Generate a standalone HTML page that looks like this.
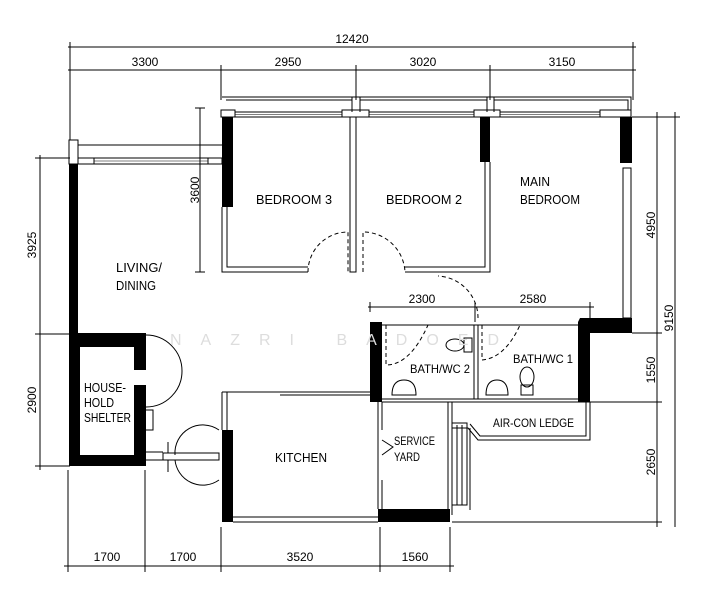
<!DOCTYPE html>
<html><head><meta charset="utf-8"><style>html,body{margin:0;padding:0;background:#fff}svg{display:block}</style></head><body>
<svg width="725" height="600" viewBox="0 0 725 600" xmlns="http://www.w3.org/2000/svg" font-family="Liberation Sans, sans-serif" fill="none" stroke="#000" stroke-width="1">
<!-- dimension lines top -->
<line x1="68" y1="47" x2="636" y2="47"/>
<line x1="68" y1="70" x2="636" y2="70"/>
<g stroke-width="1">
<line x1="70" y1="42" x2="70" y2="150"/><line x1="633" y1="42" x2="633" y2="100"/>
<line x1="221" y1="65" x2="221" y2="100"/><line x1="356" y1="65" x2="356" y2="100"/><line x1="490" y1="65" x2="490" y2="100"/>
</g>
<g fill="#000" stroke="none" font-size="12" text-anchor="middle">
<text x="352" y="43">12420</text>
<text x="145" y="66">3300</text><text x="288" y="66">2950</text><text x="423" y="66">3020</text><text x="562" y="66">3150</text>
</g>
<!-- top facade bedrooms -->
<path d="M222 97 H631 V112"/>
<path d="M226 100 H352 M360 100 H487 M494 100 H628 V110"/>
<rect x="222" y="112" width="409" height="5"/>
<line x1="230" y1="114.5" x2="628" y2="114.5" stroke-width="0.6"/>
<rect x="221" y="110" width="14" height="7" fill="#fff"/>
<rect x="342" y="110" width="27" height="7" fill="#fff"/>
<rect x="474" y="110" width="26" height="7" fill="#fff"/>
<rect x="600" y="110" width="31" height="7" fill="#fff"/>
<line x1="352" y1="97" x2="352" y2="112"/><line x1="360" y1="97" x2="360" y2="112"/><line x1="487" y1="97" x2="487" y2="112"/><line x1="494" y1="97" x2="494" y2="112"/>
<!-- living top -->
<path d="M69 140 H78 V145 H222"/>
<rect x="78" y="158" width="144" height="6"/>
<line x1="80" y1="161" x2="220" y2="161" stroke-width="0.6"/>
<rect x="69" y="140" width="9" height="24" fill="#fff"/>
<rect x="78" y="158" width="16" height="6" fill="#fff"/><rect x="208" y="158" width="14" height="6" fill="#fff"/>
<!-- black walls -->
<g fill="#000" stroke="none">
<rect x="69" y="164" width="9" height="170"/>
<rect x="222" y="117" width="11" height="90"/>
<rect x="480" y="117" width="10" height="45"/>
<rect x="620" y="117" width="12" height="46"/>
<path d="M580 318 H632 V333 H590 V402 H578 V322 Z"/>
<rect x="370" y="322" width="12" height="80"/>
<path d="M69 333 H146 V466 H69 Z M80 347 V455 H134 V347 Z" fill-rule="evenodd"/>
<rect x="134" y="370" width="12" height="15" fill="#fff"/>
<rect x="222" y="430" width="11" height="92"/>
<rect x="378" y="509" width="72" height="13"/>
<rect x="310" y="393" width="12" height="0"/>
</g>
<!-- bedroom walls -->
<path d="M222 207 V272 H308 M227 207 V267 H308"/>
<path d="M350 117 V272 H356 V117"/>
<path d="M363 272 V232 A42 42 0 0 1 405 272" stroke-dasharray="4 3"/>
<path d="M308 272 A40 40 0 0 1 348 232 V272" stroke-dasharray="4 3"/>
<path d="M405 272 H490 V162 M405 267 H485 V162"/>
<!-- main bedroom -->
<rect x="623" y="168" width="8" height="150"/>
<path d="M478 318 A42 42 0 0 0 438 276" stroke-dasharray="4 3"/>
<!-- dims inner -->
<line x1="200" y1="108" x2="200" y2="272"/><line x1="195" y1="108" x2="205" y2="108"/><line x1="195" y1="272" x2="205" y2="272"/>
<line x1="368" y1="307" x2="594" y2="307"/><line x1="370" y1="302" x2="370" y2="312"/><line x1="475" y1="302" x2="475" y2="322"/><line x1="590" y1="302" x2="590" y2="318"/>
<g fill="#000" stroke="none" font-size="12" text-anchor="middle">
<text x="422" y="303">2300</text><text x="533" y="303">2580</text>
<text transform="translate(199,190) rotate(-90)">3600</text>
</g>
<!-- baths -->
<path d="M382 325 H578 M382 399 H578 M382 402 H578"/>
<line x1="474" y1="325" x2="474" y2="399"/><line x1="478" y1="325" x2="478" y2="399"/>
<path d="M386 325 V365 Q410 365 428 325" stroke-dasharray="4 3"/>
<path d="M482 325 V360 Q505 358 520 325" stroke-dasharray="4 3"/>
<ellipse cx="455" cy="345" rx="9" ry="6"/><rect x="464" y="338" width="8" height="14"/>
<ellipse cx="527" cy="377" rx="7" ry="10"/><rect x="521" y="385" width="12" height="10"/>
<path d="M392 395 Q392 380 404 380 Q416 380 416 395 Z"/>
<path d="M486 395 Q486 380 497 380 Q508 380 508 395 Z"/>
<!-- shelter door -->
<path d="M146 335 A36 36 0 0 1 146 407"/>
<path d="M146 410 H153 V430 H146"/>
<!-- main entrance -->
<rect x="163" y="453" width="56" height="7"/>
<path d="M219 430 A28 28 0 0 0 175 455 M219 480 A28 28 0 0 1 175 460"/>
<path d="M168 442 V453 M168 460 V472"/>
<path d="M146 460 H163 M146 452 H163"/>
<!-- kitchen -->
<path d="M222 392 H378 M222 392 V430 M227 392 V430 M280 395 H378"/>
<path d="M233 517 H378 M233 522 H378"/>
<path d="M378 402 V509 M382 402 V430 M382 480 V509"/>
<path d="M382 440 L393 447 L382 455"/>
<path d="M448 402 V515 M452 402 V515"/>
<!-- air con -->
<path d="M452 402 H590 V440 H478 L468 428 H452"/>
<path d="M456 402 H586 V436 H480 L470 424"/>
<rect x="452" y="423" width="15" height="82"/>
<line x1="457" y1="425" x2="457" y2="505"/><line x1="462" y1="425" x2="462" y2="505"/>
<path d="M470 428 V510"/>
<line x1="452" y1="522" x2="662" y2="522"/>
<line x1="590" y1="402" x2="662" y2="402"/>
<line x1="632" y1="333" x2="662" y2="333"/>
<line x1="632" y1="117" x2="680" y2="117"/>
<!-- right dims -->
<line x1="657" y1="112" x2="657" y2="527"/><line x1="675" y1="112" x2="675" y2="527"/>
<g fill="#000" stroke="none" font-size="12" text-anchor="middle">
<text transform="translate(655,225) rotate(-90)">4950</text>
<text transform="translate(655,370) rotate(-90)">1550</text>
<text transform="translate(655,462) rotate(-90)">2650</text>
<text transform="translate(673,318) rotate(-90)">9150</text>
<text transform="translate(36,245) rotate(-90)">3925</text>
<text transform="translate(36,400) rotate(-90)">2900</text>
</g>
<!-- left dims -->
<line x1="40" y1="155" x2="40" y2="470"/>
<line x1="35" y1="158" x2="70" y2="158"/><line x1="35" y1="334" x2="70" y2="334"/><line x1="35" y1="466" x2="70" y2="466"/>
<!-- bottom dims -->
<line x1="64" y1="566" x2="454" y2="566"/>
<line x1="68" y1="470" x2="68" y2="572"/><line x1="145" y1="470" x2="145" y2="572"/><line x1="221" y1="527" x2="221" y2="572"/><line x1="380" y1="527" x2="380" y2="572"/><line x1="450" y1="527" x2="450" y2="572"/>
<g fill="#000" stroke="none" font-size="12" text-anchor="middle">
<text x="107" y="561">1700</text><text x="183" y="561">1700</text><text x="300" y="561">3520</text><text x="415" y="561">1560</text>
</g>
<!-- watermark -->
<text x="170" y="345" fill="#ddd" stroke="none" font-size="16" letter-spacing="19">NAZRI BADOED</text>
<!-- room labels -->
<g fill="#000" stroke="none" font-size="13">
<text x="256" y="204" textLength="76" lengthAdjust="spacingAndGlyphs">BEDROOM 3</text>
<text x="386" y="204" textLength="76" lengthAdjust="spacingAndGlyphs">BEDROOM 2</text>
<text x="520" y="186" textLength="30" lengthAdjust="spacingAndGlyphs">MAIN</text>
<text x="520" y="204" textLength="60" lengthAdjust="spacingAndGlyphs">BEDROOM</text>
<text x="116" y="272" textLength="46" lengthAdjust="spacingAndGlyphs">LIVING/</text>
<text x="116" y="290" textLength="40" lengthAdjust="spacingAndGlyphs">DINING</text>
<text x="84" y="392" textLength="42" lengthAdjust="spacingAndGlyphs">HOUSE-</text>
<text x="84" y="407" textLength="30" lengthAdjust="spacingAndGlyphs">HOLD</text>
<text x="84" y="422" textLength="47" lengthAdjust="spacingAndGlyphs">SHELTER</text>
<text x="275" y="462" textLength="52" lengthAdjust="spacingAndGlyphs">KITCHEN</text>
<text x="394" y="445" font-size="12" textLength="41" lengthAdjust="spacingAndGlyphs">SERVICE</text>
<text x="394" y="461" font-size="12" textLength="26" lengthAdjust="spacingAndGlyphs">YARD</text>
<text x="493" y="427" font-size="12" textLength="81" lengthAdjust="spacingAndGlyphs">AIR-CON LEDGE</text>
<text x="410" y="373" font-size="12" textLength="60" lengthAdjust="spacingAndGlyphs">BATH/WC 2</text>
<text x="513" y="363" font-size="12" textLength="60" lengthAdjust="spacingAndGlyphs">BATH/WC 1</text>
</g>
</svg>
</body></html>
